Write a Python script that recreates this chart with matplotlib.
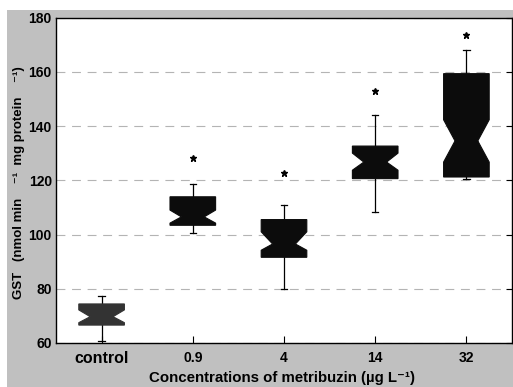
import matplotlib
matplotlib.use("Agg")
import matplotlib.pyplot as plt
from matplotlib.patches import Rectangle

plt.rcParams['font.family'] = ['Liberation Sans', 'DejaVu Sans']
plt.rcParams['font.weight'] = 'bold'

# Box statistics per metribuzin concentration (GST activity)
groups = ["control", "0.9", "4", "14", "32"]
whis_low = [60.9, 100.4, 79.9, 108.3, 120.6]
q1 = [66.6, 103.4, 91.6, 120.6, 121.2]
notch_low = [67.5, 104.2, 94.2, 123.7, 126.7]
median = [69.7, 106.5, 96.5, 126.7, 134.5]
notch_high = [72.2, 109.0, 101.0, 130.0, 142.3]
q3 = [74.4, 113.9, 105.5, 132.6, 159.3]
whis_high = [77.3, 118.8, 110.9, 144.2, 167.9]
# significance markers (* above each treated group)
star_groups = ["0.9", "4", "14", "32"]
star_values = [128.1, 122.5, 152.9, 173.7]
box_colors = ["#333333", "#0c0c0c", "#0c0c0c", "#0c0c0c", "#0c0c0c"]

fig = plt.figure(figsize=(5.13, 3.87), dpi=100, facecolor="white")
fig.patches.append(Rectangle((7 / 513, 0), 1, (387 - 10) / 387,
                             transform=fig.transFigure, facecolor="#c0c0c0",
                             edgecolor="none", zorder=-5))
ax = fig.add_axes([56 / 513, 44 / 387, 456 / 513, 325.5 / 387])
ax.set_facecolor("white")
ax.set_zorder(2)

stats = []
for i, g in enumerate(groups):
    stats.append(dict(label=g, whislo=whis_low[i], q1=q1[i], med=median[i],
                      q3=q3[i], whishi=whis_high[i], cilo=notch_low[i],
                      cihi=notch_high[i], fliers=[]))

positions = list(range(1, len(groups) + 1))
bp = ax.bxp(stats, positions=positions, widths=0.5, shownotches=True,
            patch_artist=True, showfliers=False, capwidths=0.07,
            boxprops=dict(linewidth=0.8),
            whiskerprops=dict(color="black", linewidth=0.9),
            capprops=dict(color="black", linewidth=0.9),
            medianprops=dict(color="#1a1a1a", linewidth=1.0))
for patch, c in zip(bp["boxes"], box_colors):
    patch.set_facecolor(c)
    patch.set_edgecolor(c)
    patch.set_zorder(3)

star_pos = [positions[groups.index(g)] for g in star_groups]
ax.plot(star_pos, star_values, linestyle="none", marker="*", color="black",
        markersize=5, zorder=4)

ax.set_xlim(0.5, 5.5)
ax.set_ylim(60, 180)
ax.set_yticks([60, 80, 100, 120, 140, 160, 180])
ax.set_xticks(positions)
ax.set_xticklabels(groups)
ax.yaxis.grid(True, linestyle=(0, (8, 6)), color="#b4b4b4", linewidth=0.8)
ax.set_axisbelow(True)

ax.tick_params(axis="x", direction="in", length=5, width=0.8, labelsize=10,
               pad=6, top=False)
ax.tick_params(axis="y", direction="in", length=4, width=0.8, labelsize=10,
               left=False, right=True, pad=3)
for lab in ax.get_xticklabels() + ax.get_yticklabels():
    lab.set_fontweight("bold")
ax.get_xticklabels()[0].set_fontsize(11.5)
for sp in ax.spines.values():
    sp.set_linewidth(1.0)
    sp.set_color("black")

fig.text(282 / 513, 1 - 378 / 387, "Concentrations of metribuzin (\u00b5g L\u207b\u00b9)",
         ha="center", va="center", fontsize=10.8, fontweight="bold")
fig.text(19 / 513, 1 - 183 / 387,
         "GST   (nmol min    \u207b\u00b9  mg protein    \u207b\u00b9)",
         rotation=90, ha="center", va="center", fontsize=9.5, fontweight="bold")

fig.savefig("out.png", dpi=100, facecolor=fig.get_facecolor())
